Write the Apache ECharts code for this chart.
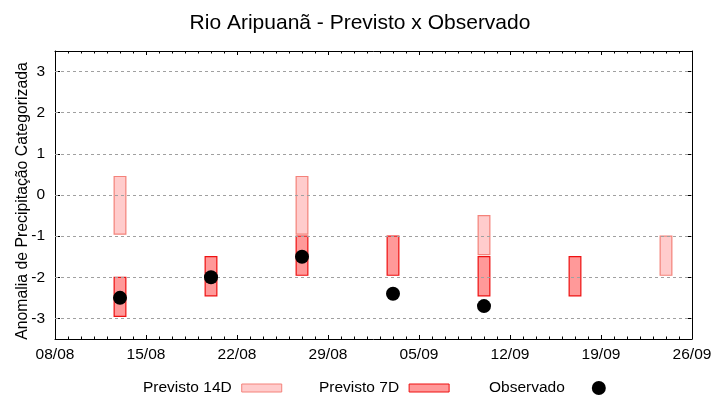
<!DOCTYPE html>
<html>
<head>
<meta charset="utf-8">
<script src="https://cdn.jsdelivr.net/npm/echarts@6/dist/echarts.min.js"></script>
<style>html,body{margin:0;padding:0;background:#fff}#c{width:720px;height:400px}</style>
</head>
<body>
<div id="c"></div>
<script>
const startDate = '08/08';
const tickLabels = ['08/08','15/08','22/08','29/08','05/09','12/09','19/09','26/09'];
const forecastDates = ['13/08','20/08','27/08','03/09','10/09','17/09','24/09'];
const prev14Top    = [0.45, null, 0.45, null, -0.5, null, -1.0];
const prev14Bottom = [-0.95, null, -0.95, null, -1.45, null, -1.95];
const prev7Top     = [-2.0, -1.5, -1.0, -1.0, -1.5, -1.5, null];
const prev7Bottom  = [-2.95, -2.45, -1.95, -1.95, -2.45, -2.45, null];
const observed     = [-2.5, -2.0, -1.5, -2.4, -2.7, null, null];
const yTicks = [-3, -2, -1, 0, 1, 2, 3];

const FONT = 'Liberation Sans, Arial, sans-serif';
function dayIndex(s) {
  const [d, m] = s.split('/').map(Number);
  const [d0, m0] = startDate.split('/').map(Number);
  return Math.round((Date.UTC(2024, m - 1, d) - Date.UTC(2024, m0 - 1, d0)) / 86400000);
}
const xs = forecastDates.map(dayIndex);
const xMax = dayIndex(tickLabels[tickLabels.length - 1]);

function rangeData(tops, bottoms) {
  const out = [];
  xs.forEach((x, i) => { if (tops[i] != null) out.push([x, bottoms[i], tops[i]]); });
  return out;
}
const obsData = [];
xs.forEach((x, i) => { if (observed[i] != null) obsData.push([x, observed[i]]); });

function rectRender(fill, stroke) {
  return function (params, api) {
    const x = api.value(0);
    const p1 = api.coord([x, api.value(2)]);
    const p2 = api.coord([x, api.value(1)]);
    const w = api.size([0.9, 0])[0];
    return {
      type: 'rect',
      shape: { x: p1[0] - w / 2, y: p1[1], width: w, height: p2[1] - p1[1] },
      style: { fill: fill, stroke: stroke, lineWidth: 1.2 }
    };
  };
}

const c14 = { fill: '#ffcccc', stroke: '#f4827a' };
const c7 = { fill: '#ff9999', stroke: '#ee1111' };

const chart = echarts.init(document.getElementById('c'), null, { renderer: 'canvas' });
const xCommon = {
  type: 'value', min: 0, max: xMax, interval: 7,
  axisLine: { show: true, onZero: false, lineStyle: { color: '#000', width: 1 } },
  axisTick: { show: true, inside: true, length: 4, lineStyle: { color: '#000' } },
  minorTick: { show: true, splitNumber: 7, length: 2.5, lineStyle: { color: '#000' } },
  splitLine: { show: false }, minorSplitLine: { show: false }
};
const yCommon = {
  type: 'value', min: -3.5, max: 3.5,
  axisLine: { show: true, onZero: false, lineStyle: { color: '#000', width: 1 } },
  axisTick: { show: true, inside: true, length: 5, customValues: yTicks, lineStyle: { color: '#000' } },
  splitLine: { show: false }
};
const legendText = { fontFamily: FONT, fontSize: 15.5, color: '#000', padding: [0, 5, 0, 0] };
chart.setOption({
  animation: false,
  title: {
    text: 'Rio Aripuanã - Previsto x Observado', left: 'center', top: 8,
    textStyle: { fontFamily: FONT, fontSize: 21, fontWeight: 'normal', color: '#000' }
  },
  grid: { left: 55, right: 28, top: 51, bottom: 61, containLabel: false },
  xAxis: [
    Object.assign({}, xCommon, {
      position: 'bottom',
      axisLabel: { show: true, margin: 8, fontFamily: FONT, fontSize: 15.5, color: '#000',
        formatter: v => tickLabels[Math.round(v / 7)] || '' }
    }),
    Object.assign({}, xCommon, { position: 'top', axisLabel: { show: false } })
  ],
  yAxis: [
    Object.assign({}, yCommon, {
      position: 'left',
      name: 'Anomalia de Precipitação Categorizada', nameLocation: 'middle', nameGap: 24,
      nameMoveOverlap: false,
      nameTextStyle: { fontFamily: FONT, fontSize: 15.8, color: '#000', padding: [0, 12, 0, 0] },
      axisLabel: { show: true, margin: 10, customValues: yTicks, fontFamily: FONT, fontSize: 15.5, color: '#000' }
    }),
    Object.assign({}, yCommon, { position: 'right', axisLabel: { show: false } })
  ],
  legend: [
    { left: 143, top: 380, padding: 0, align: 'right', itemWidth: 40, itemHeight: 8,
      textStyle: legendText,
      data: [{ name: 'Previsto 14D', icon: 'rect', itemStyle: { color: c14.fill, borderColor: c14.stroke, borderWidth: 1 } }] },
    { left: 319, top: 380, padding: 0, align: 'right', itemWidth: 40, itemHeight: 8,
      textStyle: legendText,
      data: [{ name: 'Previsto 7D', icon: 'rect', itemStyle: { color: c7.fill, borderColor: c7.stroke, borderWidth: 1 } }] },
    { left: 489, top: 380, padding: 0, align: 'right', itemWidth: 14, itemHeight: 14,
      textStyle: { fontFamily: FONT, fontSize: 15.5, color: '#000', padding: [0, 22, 0, 0] },
      data: [{ name: 'Observado', icon: 'circle', itemStyle: { color: '#000', opacity: 1 } }] }
  ],
  series: [
    {
      name: 'grid', type: 'line', data: [], silent: true, xAxisIndex: 0, yAxisIndex: 0,
      markLine: {
        silent: true, symbol: ['none', 'none'], label: { show: false },
        lineStyle: { color: '#a0a0a0', type: [3, 3], width: 1 },
        data: yTicks.map(v => ({ yAxis: v }))
      }
    },
    { name: 'Previsto 14D', type: 'custom', renderItem: rectRender(c14.fill, c14.stroke), data: rangeData(prev14Top, prev14Bottom),
      itemStyle: { color: c14.fill, borderColor: c14.stroke }, encode: { x: 0, y: [1, 2] }, z: 3 },
    { name: 'Previsto 7D', type: 'custom', renderItem: rectRender(c7.fill, c7.stroke), data: rangeData(prev7Top, prev7Bottom),
      itemStyle: { color: c7.fill, borderColor: c7.stroke }, encode: { x: 0, y: [1, 2] }, z: 4 },
    { name: 'Observado', type: 'scatter', symbol: 'circle', symbolSize: 14, data: obsData,
      itemStyle: { color: '#000', opacity: 1 }, z: 5 }
  ]
});
</script>
</body>
</html>
